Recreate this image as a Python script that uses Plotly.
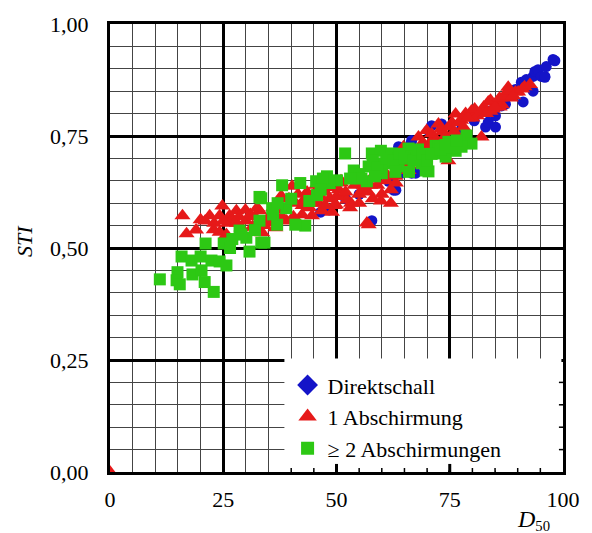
import plotly.graph_objects as go

# ---- data ----
blue_x = [48.4, 46.5, 57.8, 61.5, 62.6, 63.1, 63.7, 64.4, 66.4, 66.6, 67.5, 68.1, 70.3, 71.0, 73.2,
          77.6, 80.4, 82.9, 83.5, 84.0, 85.1, 85.1, 86.4, 86.4, 87.3, 87.9, 89.5, 90.8, 91.2, 91.6,
          91.9, 93.4, 93.4, 93.8, 94.5, 95.2, 96.0, 96.0, 96.3, 97.8, 98.2, 63.7, 66.6, 55.0, 52.0]
blue_y = [0.585, 0.580, 0.561, 0.649, 0.629, 0.629, 0.706, 0.667, 0.733, 0.667, 0.667, 0.715, 0.762, 0.773, 0.777,
          0.766, 0.784, 0.770, 0.781, 0.806, 0.795, 0.770, 0.817, 0.832, 0.821, 0.843, 0.854, 0.870, 0.826, 0.872,
          0.876, 0.850, 0.883, 0.894, 0.898, 0.883, 0.881, 0.883, 0.905, 0.921, 0.918, 0.726, 0.740, 0.620, 0.610]

red_x = [0.0, 16.0, 16.9, 20.0, 22.0, 22.9, 24.2, 24.8, 26.4, 27.9, 29.9, 33.0, 24.2, 25.7, 28.0,
         30.0, 31.5, 32.0, 33.6, 34.5, 35.0, 36.0, 37.8, 38.5, 39.0, 40.2, 41.0, 42.4, 43.0, 44.0,
         44.6, 45.0, 46.0, 46.8, 47.5, 48.5, 49.5, 49.9, 50.5, 51.5, 52.3, 53.2, 54.0, 55.0, 55.6,
         56.7, 57.1, 57.5, 58.0, 59.8, 61.0, 62.0, 63.1, 64.0, 64.8, 65.9, 66.5, 67.0, 68.1, 69.0,
         69.9, 71.0, 72.5, 73.5, 74.7, 75.5, 76.3, 77.5, 78.5, 79.8, 81.0, 82.0, 82.5, 83.5, 84.5,
         85.7, 86.5, 87.9, 89.5, 90.1, 91.5, 92.7, 80.0, 82.5, 84.0, 86.0, 88.5, 51.0, 53.5, 36.5,
         31.0, 32.5, 34.0, 35.5, 37.0, 38.0, 39.5, 40.5, 41.5, 42.5, 43.5, 44.5, 45.5, 46.5, 47.5,
         48.5, 49.0, 50.0, 51.0, 52.0, 53.0, 54.0, 55.0, 56.0, 57.0, 58.0, 59.0, 60.0, 61.0, 62.0,
         63.0, 65.0, 66.0, 67.5, 68.5, 70.0, 71.0, 72.0, 73.0, 74.0, 75.0, 76.0, 77.0, 78.0, 79.0,
         80.5, 81.5, 83.0, 84.0, 85.0, 86.0, 87.0, 88.0, 89.0, 91.0, 26.0, 27.0, 28.5, 29.0, 25.0,
         23.0, 21.0, 19.0]
red_y = [0.000, 0.572, 0.532, 0.563, 0.572, 0.541, 0.572, 0.594, 0.572, 0.583, 0.585, 0.583, 0.535, 0.530, 0.555,
         0.560, 0.548, 0.570, 0.534, 0.556, 0.560, 0.590, 0.616, 0.585, 0.560, 0.638, 0.600, 0.574, 0.610, 0.590,
         0.572, 0.620, 0.600, 0.583, 0.625, 0.610, 0.595, 0.596, 0.630, 0.615, 0.607, 0.600, 0.640, 0.620, 0.629,
         0.556, 0.552, 0.640, 0.610, 0.605, 0.650, 0.630, 0.645, 0.680, 0.726, 0.673, 0.700, 0.720, 0.748, 0.735,
         0.762, 0.740, 0.777, 0.760, 0.695, 0.780, 0.799, 0.785, 0.800, 0.806, 0.795, 0.748, 0.815, 0.826, 0.810,
         0.828, 0.820, 0.859, 0.848, 0.848, 0.860, 0.865, 0.790, 0.800, 0.805, 0.815, 0.835, 0.650, 0.660, 0.545,
         0.575, 0.590, 0.550, 0.575, 0.600, 0.570, 0.610, 0.570, 0.620, 0.595, 0.625, 0.600, 0.640, 0.615, 0.595,
         0.635, 0.580, 0.615, 0.645, 0.625, 0.590, 0.655, 0.600, 0.640, 0.625, 0.660, 0.640, 0.620, 0.665, 0.600,
         0.660, 0.690, 0.685, 0.705, 0.720, 0.725, 0.755, 0.740, 0.765, 0.750, 0.770, 0.760, 0.780, 0.770, 0.790,
         0.810, 0.800, 0.800, 0.830, 0.815, 0.835, 0.840, 0.850, 0.840, 0.855, 0.555, 0.565, 0.570, 0.545, 0.560,
         0.555, 0.560, 0.540]

green_x = [11.0, 14.9, 14.7, 15.4, 15.8, 18.0, 18.2, 20.0, 20.2, 20.9, 21.1, 22.4, 22.9, 24.2, 25.1,
           25.7, 28.6, 30.1, 30.8, 33.0, 33.0, 33.4, 34.1, 36.9, 35.8, 38.9, 38.0, 42.0, 43.1, 44.0,
           45.7, 45.5, 47.9, 50.1, 51.9, 53.8, 56.7, 57.1, 57.8, 59.8, 60.0, 33.4, 60.4, 62.2, 65.9,
           66.6, 68.8, 70.3, 71.9, 73.2, 74.7, 76.3, 78.7, 79.8, 61.5, 63.7, 69.7, 72.5, 74.1, 77.6,
           55.0, 40.9, 64.5, 58.0, 59.0, 61.0, 62.5, 64.0, 65.0, 67.0, 68.0, 69.0, 70.0, 71.0, 73.0,
           74.0, 75.5, 76.5, 66.0, 63.0, 58.5, 55.5, 53.0, 48.5, 47.0, 46.5, 40.0, 37.0, 36.0, 32.0,
           29.0, 27.0, 26.5]
green_y = [0.430, 0.446, 0.428, 0.419, 0.481, 0.472, 0.441, 0.481, 0.450, 0.424, 0.510, 0.472, 0.402, 0.470, 0.510,
           0.461, 0.539, 0.523, 0.492, 0.614, 0.561, 0.512, 0.512, 0.552, 0.589, 0.589, 0.640, 0.645, 0.550, 0.605,
           0.618, 0.649, 0.660, 0.651, 0.711, 0.673, 0.649, 0.682, 0.711, 0.717, 0.667, 0.611, 0.689, 0.711, 0.722,
           0.704, 0.689, 0.671, 0.728, 0.711, 0.737, 0.717, 0.751, 0.733, 0.690, 0.682, 0.673, 0.726, 0.704, 0.726,
           0.665, 0.552, 0.700, 0.695, 0.680, 0.700, 0.695, 0.710, 0.700, 0.695, 0.720, 0.710, 0.695, 0.710, 0.720,
           0.730, 0.725, 0.740, 0.670, 0.670, 0.660, 0.655, 0.655, 0.645, 0.655, 0.630, 0.610, 0.600, 0.575, 0.540,
           0.530, 0.520, 0.500]

series_names = ["Direktschall", "1 Abschirmung", "\u2265 2 Abschirmungen"]
x_ticks = [0, 25, 50, 75, 100]
x_tick_labels = ["0", "25", "50", "75", "100"]
y_ticks = [0.0, 0.25, 0.5, 0.75, 1.0]
y_tick_labels = ["0,00", "0,25", "0,50", "0,75", "1,00"]

BLUE = "#1414c8"
RED = "#e61919"
GREEN = "#2dc814"
FONT = "'Liberation Serif', 'Times New Roman', Times, 'DejaVu Serif', serif"

fig = go.Figure()
fig.add_trace(go.Scatter(x=blue_x, y=blue_y, mode="markers", showlegend=False,
                         marker=dict(symbol="circle", size=11, color=BLUE)))
fig.add_trace(go.Scatter(x=red_x, y=red_y, mode="markers", showlegend=False,
                         marker=dict(symbol="triangle-up", size=14, color=RED)))
fig.add_trace(go.Scatter(x=green_x, y=green_y, mode="markers", showlegend=False,
                         marker=dict(symbol="square", size=12, color=GREEN)))
# legend entries
for name, sym, col, sz in zip(series_names, ["diamond", "triangle-up", "square"],
                              [BLUE, RED, GREEN], [16, 16, 13]):
    fig.add_trace(go.Scatter(x=[None], y=[None], mode="markers", name=name,
                             marker=dict(symbol=sym, size=sz, color=col)))

shapes = [dict(type="rect", xref="x", yref="y", x0=38.5, x1=99.65, y0=0.0035, y1=0.2535,
               fillcolor="white", line=dict(width=0), layer="above")]
for v in range(40, 100, 5):
    major = v % 25 == 0
    shapes.append(dict(type="line", xref="x", yref="y", x0=v, x1=v, y0=0, y1=0.018 if major else 0.009,
                       line=dict(color="black", width=3 if major else 1.5), layer="above"))
for v in [0.05, 0.10, 0.15, 0.20]:
    shapes.append(dict(type="line", xref="x", yref="y", x0=100, x1=99.1, y0=v, y1=v,
                       line=dict(color="black", width=1.5), layer="above"))

axis_common = dict(showline=True, linecolor="black", linewidth=3, mirror=True,
                   showgrid=True, gridcolor="black", gridwidth=3, zeroline=False,
                   ticks="", tickfont=dict(family=FONT, size=22, color="black"))

fig.update_layout(
    width=592, height=533,
    margin=dict(l=110, r=27, t=19, b=61),
    paper_bgcolor="white", plot_bgcolor="white",
    xaxis=dict(range=[0, 100], tickvals=x_ticks, ticktext=x_tick_labels,
               minor=dict(dtick=5, tick0=0, showgrid=True, gridcolor="#444", gridwidth=1.3),
               ticklabelstandoff=6, **axis_common),
    yaxis=dict(range=[0, 1], tickvals=y_ticks, ticktext=y_tick_labels,
               minor=dict(dtick=0.05, tick0=0, showgrid=True, gridcolor="#444", gridwidth=1.3),
               ticklabelstandoff=14, **axis_common),
    legend=dict(x=0.392, y=0.2406, xanchor="left", yanchor="top", bgcolor="rgba(0,0,0,0)",
                font=dict(family=FONT, size=22, color="black"), borderwidth=0),
    shapes=shapes,
    annotations=[
        dict(text="<i>STI</i>", xref="paper", yref="paper", x=(24 - 110) / 455, y=(472 - 238) / 453,
             showarrow=False, textangle=-90, font=dict(family=FONT, size=22, color="black"),
             xanchor="center", yanchor="middle"),
        dict(text="<i>D</i><span style='font-size:21px'><sub>50</sub></span>", xref="paper", yref="paper",
             x=(517 - 110) / 455, y=(472 - 521) / 453, showarrow=False,
             font=dict(family=FONT, size=24, color="black"), xanchor="left", yanchor="middle"),
    ],
)

fig.write_html("out.html", post_script="document.body.style.margin='0';",
               config={"displayModeBar": False})
